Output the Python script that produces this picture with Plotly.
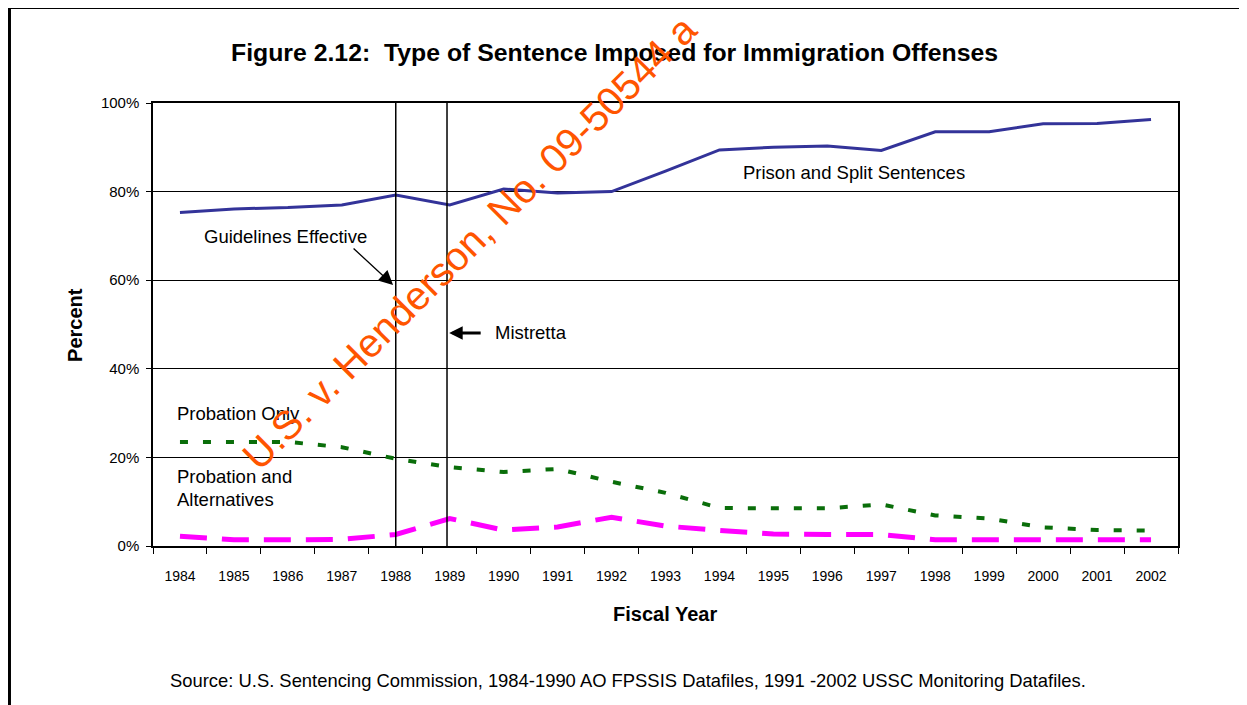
import plotly.graph_objs as go

years = [str(y) for y in range(1984, 2003)]
prison_split = [75.3, 76.1, 76.4, 77.0, 79.2, 77.0, 80.6, 79.7, 80.0, 84.6,
                89.4, 90.0, 90.3, 89.3, 93.5, 93.5, 95.3, 95.4, 96.3]
probation_only = [23.5, 23.5, 23.5, 22.3, 19.7, 17.8, 16.7, 17.4, 14.5, 12.0,
                  8.6, 8.5, 8.5, 9.4, 6.9, 6.2, 4.2, 3.6, 3.5]
probation_alt = [2.2, 1.4, 1.4, 1.5, 2.6, 6.2, 3.6, 4.3, 6.5, 4.5,
                 3.5, 2.7, 2.6, 2.6, 1.4, 1.4, 1.4, 1.4, 1.4]
y_ticks = [0, 20, 40, 60, 80, 100]
y_tick_labels = ["0%", "20%", "40%", "60%", "80%", "100%"]

FONT = "Liberation Sans, Arial, sans-serif"

fig = go.Figure()
fig.add_trace(go.Scatter(x=years, y=prison_split, mode="lines",
                         line=dict(color="#333399", width=3)))
fig.add_trace(go.Scatter(x=years, y=probation_only, mode="lines",
                         line=dict(color="#0a6e0a", width=4, dash="8px,15px")))
fig.add_trace(go.Scatter(x=years, y=probation_alt, mode="lines",
                         line=dict(color="#ff00ff", width=5, dash="27px,15px")))

# event markers
shapes = [
    dict(type="line", xref="x", yref="paper", x0=4, x1=4, y0=0, y1=1,
         line=dict(color="black", width=1.5), opacity=1),
    dict(type="line", xref="x", yref="paper", x0=4.95, x1=4.95, y0=0, y1=1,
         line=dict(color="black", width=1.5), opacity=1),
    # page frame
    dict(type="line", xref="paper", yref="paper", x0=-0.1405, x1=1.07, y0=1.2167, y1=1.2167,
         line=dict(color="black", width=4), opacity=1),
    dict(type="line", xref="paper", yref="paper", x0=-0.1405, x1=-0.1405, y0=1.2167, y1=-0.4,
         line=dict(color="black", width=4), opacity=1),
]

txt = dict(family=FONT, size=18.5, color="black")
centered = dict(xref="paper", yref="paper", xanchor="center", yanchor="middle", showarrow=False)
annotations = [
    dict(text="Figure 2.12:  Type of Sentence Imposed for Immigration Offenses",
         x=0.4507, y=1.115, font=dict(family=FONT, size=24.8, color="black", weight="bold"),
         **centered),
    dict(text="Percent", x=-0.0761, y=0.499, textangle=-90,
         font=dict(family=FONT, size=20, color="black", weight="bold"), **centered),
    dict(text="Fiscal Year", x=0.4995, y=-0.1535,
         font=dict(family=FONT, size=20, color="black", weight="bold"), **centered),
    dict(text="Source: U.S. Sentencing Commission, 1984-1990 AO FPSSIS Datafiles, 1991 -2002 USSC Monitoring Datafiles.",
         x=0.4634, y=-0.3025, font=dict(family=FONT, size=18.4, color="black"), **centered),
    dict(text="Prison and Split Sentences", x=10.4, y=84.4, xanchor="left",
         showarrow=False, font=txt),
    dict(text="Guidelines Effective", x=1.95, y=69.8, showarrow=False, font=txt),
    dict(text="", x=3.95, y=58.9, ax=-41, ay=-38, showarrow=True,
         arrowhead=2, arrowsize=2.2, arrowwidth=1.3, arrowcolor="black"),
    dict(text="Mistretta", x=5.8, y=48.1, xanchor="left", showarrow=False, font=txt),
    dict(text="", x=4.99, y=48.1, ax=33, ay=0, showarrow=True,
         arrowhead=2, arrowsize=0.9, arrowwidth=3, arrowcolor="black"),
    dict(text="Probation Only", x=-0.09, y=30.0, xanchor="left", showarrow=False, font=txt),
    dict(text="Probation and", x=-0.09, y=15.8, xanchor="left", showarrow=False, font=txt),
    dict(text="Alternatives", x=-0.09, y=10.4, xanchor="left", showarrow=False, font=txt),
    # watermark
    dict(text="U.S. v. Henderson, No. 09-50544 a", x=0.309, y=0.6865, textangle=-45,
         font=dict(family=FONT, size=40, color="#ff5500"), **centered),
]

fig.update_layout(
    width=1239,
    height=697,
    margin=dict(l=145, r=69, t=95, b=159),
    template="simple_white",
    plot_bgcolor="white",
    paper_bgcolor="white",
    showlegend=False,
    shapes=shapes,
    annotations=annotations,
    font=dict(family=FONT, color="black"),
    xaxis=dict(
        type="category",
        range=[-0.5, 18.5],
        showline=True, mirror=True, linecolor="black", linewidth=1.5,
        ticks="outside", tickson="boundaries", ticklen=6, tickcolor="black",
        ticklabelstandoff=16,
        tickfont=dict(family=FONT, size=14, color="black"),
        showgrid=False,
    ),
    yaxis=dict(
        range=[0, 100],
        tickvals=y_ticks, ticktext=y_tick_labels,
        showline=True, mirror=True, linecolor="black", linewidth=1.5,
        ticks="outside", ticklen=5, tickcolor="black",
        ticklabelstandoff=4,
        tickfont=dict(family=FONT, size=15, color="black"),
        showgrid=True, gridcolor="black", gridwidth=1.2,
        zeroline=False,
    ),
)

fig.write_html("out.html")
